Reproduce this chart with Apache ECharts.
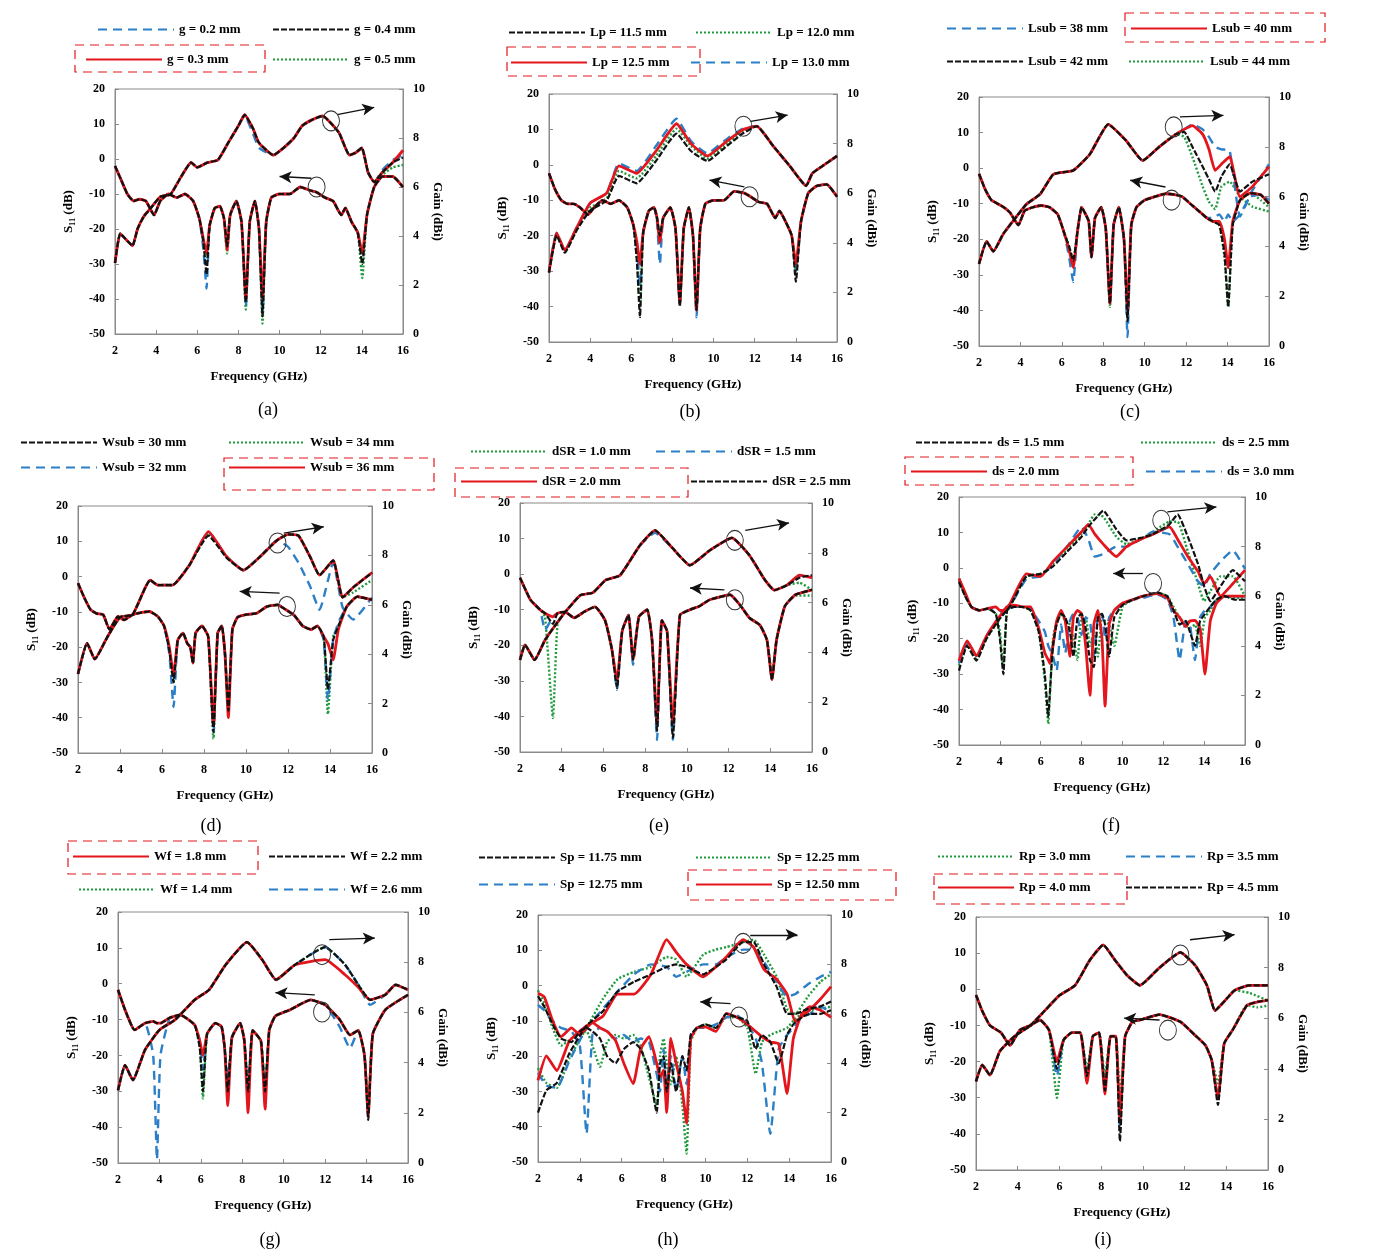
<!DOCTYPE html>
<html><head><meta charset="utf-8">
<script src="https://cdn.jsdelivr.net/npm/echarts@6/dist/echarts.min.js"></script>
<style>html,body{margin:0;padding:0;background:#fff}#c{width:1379px;height:1254px}</style>
</head><body><div id="c"></div>
<script>
// ---------- axis ticks ----------
const freqTicks = [2,4,6,8,10,12,14,16];
const s11Ticks = [20,10,0,-10,-20,-30,-40,-50];
const gainTicks = [10,8,6,4,2,0];

// ---------- (a) ----------
const fA = [2,2.3,2.6,2.9,3.2,3.5,3.9,4.2,4.6,5.0,5.4,5.8,6.1,6.3,6.45,6.6,6.85,7.1,7.3,7.45,7.6,7.9,8.15,8.36,8.55,8.8,9.0,9.17,9.35,9.6,10.0,10.5,11.0,11.5,11.8,12.2,12.6,13.0,13.2,13.5,13.8,14.02,14.25,14.6,15.0,15.5,16];
const s11A_red   = [-2,-6,-10,-12,-11.5,-12,-16,-12,-10,-11,-10,-12,-17,-23,-27,-19,-14,-13.5,-17,-26,-16,-12,-18,-40,-18,-12,-20,-40,-18,-11,-10,-10,-8,-9,-9.5,-11,-12,-16,-14,-18,-21,-27,-16,-8,-5,-5,-8];
const s11A_blue  = [-2,-6,-10,-12,-11.5,-12,-16,-12,-10,-11,-10,-12,-17,-26,-37,-19,-14,-13.5,-17,-25,-16,-12,-18,-42,-18,-12,-20,-44,-18,-11,-10,-10,-8,-9,-9.5,-11,-12,-16,-14,-18,-21,-28,-16,-8,-5,-5,-8];
const s11A_black = [-2,-6,-10,-12,-11.5,-12,-16,-12,-10,-11,-10,-12,-17,-24,-33,-19,-14,-13.5,-17,-25,-16,-12,-18,-41,-18,-12,-20,-45,-18,-11,-10,-10,-8,-9,-9.5,-11,-12,-16,-14,-18,-21,-30,-16,-8,-5,-5,-8];
const s11A_green = [-2,-6,-10,-12,-11.5,-12,-16,-12,-10,-11,-10,-12,-17,-23,-28,-19,-14,-13.5,-17,-27,-16,-12,-18,-43,-18,-12,-20,-47,-18,-11,-10,-10,-8,-9,-9.5,-11,-12,-16,-14,-18,-21,-34,-16,-8,-5,-5,-8];
const gfA = [2,2.25,2.6,2.85,3.1,3.4,3.7,4.2,4.7,5.2,5.7,6.0,6.5,7.0,7.5,8.0,8.3,8.7,9.0,9.7,10.2,10.7,11.1,11.6,12.1,12.5,12.9,13.4,13.7,14.0,14.3,14.6,15.0,15.5,16];
const gainA_red   = [2.9,4.1,3.8,3.6,4.3,4.8,5.1,5.6,5.7,6.4,7.0,6.8,7.0,7.1,7.8,8.5,8.95,8.4,7.8,7.3,7.6,8.0,8.5,8.75,8.9,8.6,8.2,7.3,7.4,7.6,6.6,6.2,6.6,7.0,7.5];
const gainA_blue  = [2.9,4.1,3.8,3.6,4.3,4.8,5.1,5.6,5.7,6.4,7.0,6.8,7.0,7.1,7.8,8.5,8.9,8.2,7.6,7.3,7.6,8.0,8.5,8.75,8.9,8.6,8.2,7.3,7.4,7.6,6.6,6.2,6.7,7.1,7.3];
const gainA_black = [2.9,4.1,3.8,3.6,4.3,4.8,5.1,5.6,5.7,6.4,7.0,6.8,7.0,7.1,7.8,8.5,8.95,8.4,7.8,7.3,7.6,8.0,8.5,8.75,8.9,8.6,8.2,7.3,7.4,7.6,6.6,6.2,6.6,7.0,7.2];
const gainA_green = [2.9,4.1,3.8,3.6,4.3,4.8,5.1,5.6,5.7,6.4,7.0,6.8,7.0,7.1,7.8,8.5,8.95,8.4,7.8,7.3,7.6,8.0,8.5,8.75,8.9,8.6,8.2,7.3,7.4,7.6,6.6,6.2,6.5,6.8,6.9];

// ---------- (b) ----------
const fB = [2,2.3,2.6,2.9,3.2,3.5,3.9,4.2,4.6,5.0,5.4,5.8,6.1,6.28,6.42,6.58,6.85,7.1,7.25,7.39,7.55,7.9,8.15,8.36,8.55,8.8,9.0,9.17,9.35,9.6,10.0,10.5,11.0,11.5,11.8,12.2,12.6,13.0,13.2,13.5,13.8,14.0,14.25,14.6,15.0,15.5,16];
const s11B_red   = [-2.4,-7,-10,-11,-11,-12,-14,-12,-10,-11,-10,-12,-17,-22,-28,-19,-13,-12,-15,-22,-15,-12,-18,-39,-18,-12,-20,-41,-18,-11,-10,-10,-7.5,-8,-9,-10.5,-11,-15,-13,-16,-20,-28,-16,-8,-6,-5.5,-9];
const s11B_blue  = [-2.4,-7,-10,-11,-11,-12,-14,-12,-10,-11,-10,-12,-17,-24,-34,-19,-13,-12,-16,-28,-15,-12,-18,-39,-18,-12,-20,-43,-18,-11,-10,-10,-7.5,-8,-9,-10.5,-11,-15,-13,-16,-20,-30,-16,-8,-6,-5.5,-9];
const s11B_black = [-2.4,-7,-10,-11,-11,-12,-14,-12,-10,-11,-10,-12,-17,-28,-43,-19,-13,-12,-15,-20,-15,-12,-18,-40,-18,-12,-20,-41,-18,-11,-10,-10,-7.5,-8,-9,-10.5,-11,-15,-13,-16,-20,-33,-16,-8,-6,-5.5,-9];
const s11B_green = [-2.4,-7,-10,-11,-11,-12,-14,-12,-10,-11,-10,-12,-17,-27,-40,-19,-13,-12,-15,-21,-15,-12,-18,-39,-18,-12,-20,-41,-18,-11,-10,-10,-7.5,-8,-9,-10.5,-11,-15,-13,-16,-20,-30,-16,-8,-6,-5.5,-9];
const gfB = [2,2.37,2.77,3.34,4.0,4.8,5.4,6.26,7.2,8.2,8.9,9.7,10.5,11.4,12.1,12.9,13.7,14.5,14.8,15.3,16];
const gainB_red   = [2.8,4.4,3.7,4.6,5.6,6.0,7.1,6.8,7.7,8.8,8.0,7.5,8.0,8.55,8.7,7.9,7.1,6.3,6.8,7.1,7.5];
const gainB_blue  = [2.9,4.4,3.7,4.6,5.6,6.0,7.2,6.9,7.9,9.0,8.1,7.6,8.1,8.6,8.7,7.9,7.1,6.3,6.8,7.1,7.5];
const gainB_black = [2.8,4.3,3.6,4.5,5.3,5.7,6.7,6.4,7.3,8.4,7.7,7.3,7.8,8.4,8.7,7.9,7.1,6.3,6.8,7.1,7.5];
const gainB_green = [2.8,4.3,3.7,4.5,5.4,5.8,6.9,6.6,7.5,8.6,7.9,7.4,7.9,8.5,8.7,7.9,7.1,6.3,6.8,7.1,7.5];

// ---------- (c) ----------
const fC = [2,2.3,2.6,2.9,3.2,3.5,3.9,4.2,4.6,5.0,5.4,5.8,6.1,6.35,6.55,6.75,6.95,7.15,7.3,7.43,7.6,7.9,8.12,8.32,8.5,8.75,9.0,9.17,9.35,9.6,10.0,10.5,11.0,11.5,11.8,12.2,12.6,13.0,13.3,13.6,13.85,14.03,14.25,14.6,15.1,15.6,16];
const s11C_red   = [-1.6,-6,-9,-10,-11,-12.5,-16,-12,-11,-10.5,-11,-13,-18,-23,-28,-18,-11,-13,-15,-25,-14,-11,-17,-38,-16,-11,-20,-40,-16,-11,-9,-8,-7.2,-7.5,-8,-10,-12,-14,-15,-15,-20,-28,-15,-9,-7,-7.5,-10];
const s11C_blue  = [-1.6,-6,-9,-10,-11,-12.5,-16,-12,-11,-10.5,-11,-13,-18,-25,-32,-18,-11,-13,-15,-25,-14,-11,-17,-38,-16,-11,-20,-47.5,-16,-11,-9,-8,-7.2,-7.5,-8,-10,-12,-14,-14,-13,-15,-13,-15,-13,-8,-7.5,-9];
const s11C_black = [-1.6,-6,-9,-10,-11,-12.5,-16,-12,-11,-10.5,-11,-13,-18,-22,-26,-18,-11,-13,-15,-25,-14,-11,-17,-38,-16,-11,-20,-43,-16,-11,-9,-8,-7.2,-7.5,-8,-10,-12,-14,-15,-16,-24,-39,-16,-9,-7,-7.5,-10];
const s11C_green = [-1.6,-6,-9,-10,-11,-12.5,-16,-12,-11,-10.5,-11,-13,-18,-22,-26,-18,-11,-13,-15,-25,-14,-11,-17,-39,-16,-11,-20,-42,-16,-11,-9,-8,-7.2,-7.5,-8,-10,-12,-14,-15,-16,-25,-39,-16,-9,-7,-9,-11];
const gfC = [2,2.37,2.69,3.17,3.81,4.3,4.95,5.6,6.55,7.35,8.24,9.1,9.9,10.7,11.5,11.9,12.3,12.8,13.1,13.4,13.7,14.1,14.6,15.2,16];
const gainC_red   = [3.3,4.2,3.8,4.5,5.2,5.7,6.1,6.9,7.05,7.7,8.9,8.25,7.45,8.0,8.5,8.7,8.85,8.5,7.9,7.05,7.3,7.6,6.0,6.4,7.2];
const gainC_blue  = [3.3,4.2,3.8,4.5,5.2,5.7,6.1,6.9,7.05,7.7,8.9,8.25,7.45,8.0,8.5,8.7,8.9,8.7,8.4,8.0,7.9,7.85,5.2,6.25,7.3];
const gainC_black = [3.3,4.2,3.8,4.5,5.2,5.7,6.1,6.9,7.05,7.7,8.9,8.25,7.45,8.0,8.5,8.6,8.0,7.2,6.7,6.2,6.8,7.3,6.2,6.6,6.9];
const gainC_green = [3.3,4.2,3.8,4.5,5.2,5.7,6.1,6.9,7.05,7.7,8.9,8.25,7.45,8.0,8.5,8.4,7.6,6.4,5.8,5.5,6.4,6.6,6.0,5.6,5.4];

// ---------- (d) ----------
const fD = [2,2.3,2.6,2.9,3.2,3.5,3.9,4.2,4.6,5.0,5.4,5.8,6.1,6.35,6.55,6.75,7.0,7.2,7.35,7.47,7.6,7.9,8.2,8.45,8.65,8.85,9.0,9.16,9.35,9.6,10.0,10.5,11.0,11.5,11.9,12.3,12.7,13.1,13.4,13.7,13.9,14.15,14.4,14.8,15.3,16];
const s11D_red   = [-1.9,-6,-9.4,-10.5,-10.8,-15,-11.3,-12.3,-10.8,-10.2,-9.9,-11.3,-14,-20,-28,-18,-16,-18.9,-20,-24.5,-16,-14,-17,-42,-16,-14,-22,-40,-15,-11.5,-10.8,-10.4,-8.5,-8,-9.4,-11,-14,-15,-14,-17,-19,-23.6,-15,-8.5,-5.7,-6.6];
const s11D_blue  = [-1.9,-6,-9.4,-10.5,-10.8,-15,-11.3,-12.3,-10.8,-10.2,-9.9,-11.3,-14,-22,-37,-18,-16,-18.9,-20,-24.5,-16,-14,-17,-44,-16,-14,-22,-36,-15,-11.5,-10.8,-10.4,-8.5,-8,-9.4,-11,-14,-15,-14,-18,-35,-18,-13,-8.5,-5.7,-6.6];
const s11D_black = [-1.9,-6,-9.4,-10.5,-10.8,-15,-11.3,-12.3,-10.8,-10.2,-9.9,-11.3,-14,-21,-30,-18,-16,-18.9,-20,-24.5,-16,-14,-17,-44,-16,-14,-22,-38,-15,-11.5,-10.8,-10.4,-8.5,-8,-9.4,-11,-14,-15,-14,-17,-32,-18,-14,-8.5,-5.7,-6.6];
const s11D_green = [-1.9,-6,-9.4,-10.5,-10.8,-15,-11.3,-12.3,-10.8,-10.2,-9.9,-11.3,-14,-21,-30,-18,-16,-18.9,-20,-24.5,-16,-14,-17,-46,-16,-14,-22,-38,-15,-11.5,-10.8,-10.4,-8.5,-8,-9.4,-11,-14,-15,-14,-17,-39,-17,-14,-8.5,-5.7,-6.6];
const gfD = [2,2.43,2.8,3.4,4.0,4.6,5.44,5.8,6.5,7.3,8.21,9.08,9.88,10.67,11.46,12.0,12.5,13.05,13.5,14.15,14.6,15.1,16];
const gainD_red   = [3.2,4.45,3.8,4.7,5.5,5.6,7.0,6.8,6.8,7.6,8.96,7.95,7.4,7.95,8.6,8.85,8.8,7.95,7.2,7.8,6.3,6.7,7.3];
const gainD_blue  = [3.2,4.45,3.8,4.7,5.5,5.6,7.0,6.8,6.8,7.6,8.96,7.95,7.4,7.95,8.6,8.35,7.7,6.75,5.8,7.7,5.9,5.4,6.3];
const gainD_black = [3.2,4.45,3.8,4.7,5.5,5.6,7.0,6.8,6.8,7.6,8.8,7.9,7.4,7.95,8.6,8.85,8.8,7.95,7.2,7.8,6.3,6.7,7.3];
const gainD_green = [3.2,4.45,3.8,4.7,5.5,5.6,7.0,6.8,6.8,7.6,8.9,7.95,7.4,7.95,8.6,8.85,8.8,7.95,7.2,7.8,6.3,6.5,7.0];

// ---------- (e) ----------
const fE = [2,2.5,2.96,3.2,3.58,3.8,4.15,4.6,5.1,5.6,6.07,6.4,6.65,6.9,7.2,7.42,7.7,8.1,8.33,8.57,8.8,9.05,9.33,9.67,10.15,10.6,11.1,12.07,12.55,13.0,13.5,13.84,14.08,14.3,14.7,15.2,16];
const s11E_red   = [-1,-7.2,-10,-11,-12,-11,-10.6,-12.3,-10.5,-9.2,-12.9,-21,-30,-16,-11.5,-24,-12,-10,-18.5,-42,-13,-16,-42,-11.5,-10,-9,-7.2,-5.8,-8.7,-12.3,-14.3,-18.5,-29.7,-18.5,-9,-5.8,-4.4];
const s11E_blue  = [-1,-7.2,-10,-15.7,-12,-11,-10.6,-12.3,-10.5,-9.2,-12.9,-21,-32.5,-16,-11.5,-25.5,-12,-10,-18.5,-46.6,-13,-16,-46.6,-11.5,-10,-9,-7.2,-5.8,-8.7,-12.3,-14.3,-18.5,-29.7,-18.5,-9,-5.8,-4.4];
const s11E_black = [-1,-7.2,-10,-11,-14,-11,-10.6,-12.3,-10.5,-9.2,-12.9,-21,-32,-16,-11.5,-24,-12,-10,-18.5,-44,-13,-16,-46,-11.5,-10,-9,-7.2,-5.8,-8.7,-12.3,-14.3,-18.5,-29.7,-18.5,-9,-5.8,-4.4];
const s11E_green = [-1,-7.2,-10,-12,-40.4,-14,-10.6,-12.3,-10.5,-9.2,-12.9,-21,-30,-16,-11.5,-24,-12,-10,-18.5,-40,-13,-16,-44,-11.5,-10,-9,-7.2,-5.8,-8.7,-12.3,-14.3,-18.5,-28,-18.5,-9,-6,-6];
const gfE = [2,2.24,2.7,3.2,3.7,4.15,4.9,5.5,6.1,6.8,7.75,8.47,9.3,10.15,11.1,12.16,13.0,13.75,14.2,14.8,15.4,16];
const gainE_red   = [3.7,4.3,3.7,4.5,5.1,5.6,6.3,6.4,6.9,7.1,8.3,8.9,8.2,7.5,8.1,8.6,7.9,6.9,6.5,6.7,7.1,7.0];
const gainE_blue  = [3.7,4.3,3.7,4.5,5.1,5.6,6.3,6.4,6.9,7.1,8.3,8.8,8.2,7.5,8.1,8.6,7.9,6.9,6.5,6.7,7.1,7.0];
const gainE_black = [3.7,4.3,3.7,4.5,5.1,5.6,6.3,6.4,6.9,7.1,8.3,8.9,8.2,7.5,8.1,8.6,7.9,6.9,6.5,6.7,7.0,7.1];
const gainE_green = [3.7,4.3,3.7,4.5,5.1,5.6,6.3,6.4,6.9,7.1,8.3,8.9,8.2,7.5,8.1,8.6,7.9,6.9,6.5,6.7,6.8,6.5];

// ---------- (f) ----------
const fF = [2,2.3,2.6,3.0,3.4,3.8,4.0,4.17,4.35,4.7,5.1,5.5,5.9,6.2,6.37,6.45,6.6,6.78,7.0,7.2,7.43,7.6,7.8,8.0,8.2,8.41,8.6,8.8,9.0,9.15,9.35,9.6,10.0,10.5,11.0,11.7,12.2,12.5,12.8,13.1,13.3,13.55,13.8,14.04,14.3,14.6,15.0,15.5,16];
const s11F_red   = [-3,-7,-11,-12,-11.5,-11,-12,-12,-11,-10.5,-11,-11,-17,-24,-26,-27,-22,-15,-12,-15,-25,-14,-12,-13,-22,-36,-16,-12,-20,-39,-16,-12,-10,-9,-8,-7.3,-8.5,-12,-14,-16.6,-15,-14.8,-17,-30,-15,-10,-8,-8,-8];
const s11F_black = [-4,-8,-11,-12,-11.5,-13,-20,-30,-12,-11,-11,-12,-18,-30,-42,-35,-22,-16,-13,-14,-18,-25,-14,-13,-17,-26,-28,-14,-13,-16,-25,-14,-10.5,-9,-8,-7,-8,-12,-16,-15,-18,-22,-15,-13,-11,-9,-8,-9,-9];
const s11F_green = [-3.5,-8,-11,-12,-11.5,-13,-18,-28,-12,-11,-11,-12,-18,-32,-44,-36,-20,-15,-13,-15,-16,-20,-26,-14,-14,-22,-18,-25,-14,-15,-16,-22,-11,-9,-8,-7.2,-8,-11,-14,-16,-17,-16,-22,-14,-12,-9,-8,-8.5,-8.5];
const s11F_blue  = [-3,-7.5,-11,-12,-11.5,-11.5,-12,-13,-11.5,-11,-11,-11.5,-15,-18,-22,-23,-25,-29,-16,-24,-15,-13,-14,-19,-14,-15,-25,-14,-13,-20,-14,-12,-10.5,-9,-8.5,-7.5,-9,-14,-26,-15,-16,-26,-14,-12,-11,-9,-8,-8,-8];
const gfF = [2,2.4,2.85,3.35,4.0,4.5,5.3,6.0,6.6,7.3,8.0,8.33,8.65,9.06,9.7,10.2,10.9,11.5,12.3,12.7,13.2,13.7,14.0,14.3,14.8,15.4,16];
const gainF_red   = [3.4,4.2,3.6,4.4,5.2,5.7,6.9,6.8,7.4,8.0,8.6,8.9,8.5,8.1,7.6,8.0,8.3,8.5,8.8,8.3,7.6,7.0,6.5,6.8,6.0,6.5,7.05];
const gainF_black = [3.0,4.0,3.4,4.3,5.1,5.6,6.8,6.9,7.2,7.8,8.4,8.8,9.1,9.45,8.7,8.25,8.35,8.5,8.9,9.3,8.4,7.3,6.4,5.8,6.4,7.05,6.6];
const gainF_green = [3.2,4.1,3.5,4.3,5.1,5.6,6.8,6.9,7.3,7.9,8.5,8.9,9.3,9.2,8.4,8.1,8.3,8.6,9.0,9.0,7.8,6.5,5.8,6.2,6.8,6.8,6.0];
const gainF_blue  = [3.3,4.1,3.6,4.4,5.2,5.6,6.7,6.8,7.3,8.0,8.8,8.3,7.6,7.7,8.0,8.0,8.3,8.6,8.5,8.0,7.3,6.6,6.4,6.9,7.4,7.85,7.1];

// ---------- (g) ----------
const fG = [2,2.34,2.8,3.3,3.7,3.88,4.05,4.5,5.0,5.7,5.95,6.1,6.3,6.7,7.0,7.15,7.3,7.5,7.9,8.1,8.28,8.5,8.9,9.1,9.3,9.6,10.3,11.3,12.0,12.7,13.2,13.6,13.9,14.08,14.3,14.9,15.6,16];
const s11G_red   = [-1.7,-7.3,-12.9,-11,-10.5,-11,-11,-9.5,-8.7,-11.5,-16,-20,-14,-11,-12,-18,-34,-15,-11,-16,-36,-13,-16,-35,-13,-9,-7.3,-4.5,-5.9,-10,-14.3,-13,-20,-37,-14,-7.3,-4.5,-3.1];
const s11G_black = [-1.7,-7.3,-12.9,-11,-10.5,-11,-11,-9.5,-8.7,-11.5,-18,-30,-14,-11,-12,-18,-30,-15,-11,-16,-30,-13,-16,-30,-13,-9,-7.3,-4.5,-5.9,-10,-14.3,-13,-20,-38,-14,-7.3,-4.5,-3.1];
const s11G_green = [-1.7,-7.3,-12.9,-11,-10.5,-11,-11,-9.5,-8.7,-11.5,-18,-32,-14,-11,-12,-18,-28,-15,-11,-16,-28,-13,-16,-29,-13,-9,-7.3,-4.5,-5.9,-10,-14.3,-13,-20,-34,-14,-7.3,-4.5,-3.1];
const s11G_blue  = [-1.7,-7.3,-12.9,-11,-20,-49,-20,-9.5,-8.7,-11.5,-16,-24,-14,-11,-12,-18,-26,-15,-11,-16,-30,-13,-16,-31,-13,-9,-7.3,-4.5,-5.9,-12,-18,-13,-20,-36,-14,-7.3,-4.5,-3.1];
const gfG = [2,2.34,2.72,3.3,4.0,4.75,5.7,6.4,7.2,8.23,8.96,9.63,10.55,12.0,12.96,13.6,14.17,14.9,15.4,16];
const gainG_red   = [2.9,3.9,3.3,4.5,5.3,5.7,6.5,6.9,7.9,8.8,8.1,7.3,7.9,8.1,7.5,7.0,6.5,6.7,7.1,6.9];
const gainG_black = [2.9,3.9,3.3,4.5,5.3,5.7,6.5,6.9,7.9,8.8,8.1,7.3,7.9,8.6,7.9,7.1,6.5,6.7,7.1,6.9];
const gainG_green = [2.9,3.9,3.3,4.5,5.3,5.7,6.5,6.9,7.9,8.8,8.1,7.3,7.9,8.6,7.9,7.1,6.5,6.7,7.1,6.9];
const gainG_blue  = [2.9,3.9,3.3,4.5,5.3,5.7,6.5,6.9,7.9,8.8,8.1,7.3,7.9,8.6,7.9,7.1,6.3,6.7,7.1,6.9];

// ---------- (h) ----------
const fH = [2,2.3,2.7,3.1,3.6,4.0,4.32,4.6,4.96,5.3,5.7,6.1,6.55,6.9,7.3,7.67,7.83,8.0,8.15,8.35,8.6,8.9,9.1,9.3,9.6,10.0,10.5,11.0,11.5,12.0,12.4,12.7,13.1,13.5,13.9,14.2,14.6,15.0,15.5,16];
const s11H_red   = [-2.2,-3.2,-10,-14.5,-12,-14,-12,-10.5,-12,-13,-15.5,-22,-27.8,-18,-14.5,-22,-26,-24,-36,-15,-22,-30,-39,-15,-12,-11.7,-13,-7.9,-9,-11,-13,-14.5,-16,-16.5,-30.6,-15,-8,-6,-7,-9];
const s11H_blue  = [-5.5,-7,-10,-12,-13,-17,-42,-14,-12,-13,-15,-14,-16,-15,-16,-25,-30,-18,-28,-20,-30,-20,-28,-14,-12,-12,-11,-9,-8.5,-11,-15,-22,-42,-18,-14,-12,-9,-8,-6,-7.5];
const s11H_green = [-1.3,-5,-12,-17,-15,-13,-13,-17,-23,-16,-14,-15,-14,-17,-26,-34,-20,-15,-22,-28,-20,-34,-47.6,-16,-12,-11,-12,-9,-9,-12,-25,-16,-14,-13,-12,-10,-8,-7,-6.5,-6];
const s11H_black = [-3,-6,-11,-15,-16,-13,-12,-13,-15,-20,-22,-18,-16,-18,-24,-36,-22,-20,-30,-22,-30,-20,-24,-14,-12,-11,-12,-8,-9,-10,-18,-14,-16,-22,-14,-11,-9,-8,-8,-7];
const gfH = [2,2.4,2.9,3.5,4.3,5.1,5.8,6.6,7.4,8.15,8.6,9.1,9.9,10.5,11.0,11.8,12.3,12.8,13.4,13.9,14.3,14.9,15.5,16];
const gainH_red   = [3.3,4.3,3.7,4.9,5.5,5.9,6.8,6.8,7.6,9.0,8.5,8.0,7.5,7.9,8.3,9.0,8.7,7.8,7.4,6.8,5.7,6.1,6.6,7.1];
const gainH_green = [3.8,3.2,3.0,4.2,5.4,6.6,7.4,7.7,7.9,8.3,8.2,7.5,8.4,8.6,8.7,8.9,9.0,8.4,7.5,6.2,6.0,6.7,7.3,7.6];
const gainH_blue  = [3.6,3.1,3.0,4.1,5.4,6.2,6.9,7.6,8.0,7.9,7.5,7.7,8.0,8.0,8.3,8.6,8.6,8.1,7.3,6.7,6.8,7.2,7.5,7.7];
const gainH_black = [2.0,2.9,3.2,4.4,5.5,6.1,6.9,7.3,7.6,7.9,8.0,7.9,7.6,7.9,8.2,8.9,8.9,8.0,7.1,6.0,6.0,6.2,6.3,6.5];

// ---------- (i) ----------
const fI = [2,2.3,2.67,3.2,3.63,4.1,4.6,5.07,5.5,5.88,6.2,6.6,7.0,7.32,7.6,7.9,8.18,8.45,8.7,8.9,9.15,9.5,9.86,10.8,11.8,12.5,13.0,13.3,13.6,13.9,14.3,15.0,15.5,16];
const s11I_red   = [-1.6,-6,-10,-12,-15.5,-11.3,-10,-8.5,-11.3,-20,-14,-12,-12,-26,-13,-12,-29,-13,-13,-36,-13,-9,-8.5,-7,-9,-12.7,-15.5,-19.6,-30,-15,-11.3,-4.4,-3.5,-3];
const s11I_black = [-1.6,-6,-10,-12,-15.5,-11.3,-10,-8.5,-11.3,-22,-14,-12,-12,-24,-13,-12,-28,-13,-13,-42,-13,-9,-8.5,-7,-9,-12.7,-15.5,-19.6,-32,-15,-11.3,-4.4,-3.5,-3];
const s11I_green = [-1.6,-6,-10,-12,-15.5,-11.3,-10,-8.5,-11.3,-30,-14,-12,-12,-22,-13,-12,-24,-13,-13,-30,-13,-9,-8.5,-7,-9,-12.7,-15.5,-19.6,-26,-15,-11.3,-4.4,-5,-4.5];
const s11I_blue  = [-1.6,-6,-10,-12,-15.5,-11.3,-10,-8.5,-11.3,-24,-14,-12,-12,-25,-13,-12,-27,-13,-13,-38,-13,-9,-8.5,-7,-9,-12.7,-15.5,-19.6,-30,-15,-11.3,-4.4,-3.5,-3];
const gfI = [2,2.3,2.67,3.15,3.87,4.6,5.3,6.0,6.75,7.46,8.1,8.66,9.24,9.86,10.8,11.8,12.5,13.07,13.46,13.94,14.4,15.1,16];
const gainI_red   = [3.5,4.15,3.75,4.7,5.3,5.7,6.3,6.9,7.3,8.3,8.9,8.3,7.7,7.3,8.0,8.6,8.1,7.3,6.3,6.7,7.1,7.3,7.3];
const gainI_black = [3.5,4.15,3.75,4.7,5.3,5.7,6.3,6.9,7.3,8.3,8.9,8.3,7.7,7.3,8.0,8.6,8.1,7.3,6.3,6.7,7.1,7.3,7.3];
const gainI_blue  = [3.5,4.15,3.75,4.7,5.3,5.7,6.3,6.9,7.3,8.3,8.9,8.3,7.7,7.3,8.0,8.6,8.1,7.3,6.3,6.7,7.1,7.3,7.3];
const gainI_green = [3.5,4.15,3.75,4.7,5.3,5.7,6.3,6.9,7.3,8.3,8.9,8.3,7.7,7.3,8.0,8.6,8.1,7.3,6.3,6.7,7.1,7.0,6.7];

// ---------- legend labels ----------
const namesA = {blue:'g = 0.2 mm', black:'g = 0.4 mm', red:'g = 0.3 mm', green:'g = 0.5 mm'};
const namesB = {black:'Lp = 11.5 mm', green:'Lp = 12.0 mm', red:'Lp = 12.5 mm', blue:'Lp = 13.0 mm'};
const namesC = {blue:'Lsub = 38 mm', red:'Lsub = 40 mm', black:'Lsub = 42 mm', green:'Lsub = 44 mm'};
const namesD = {black:'Wsub = 30 mm', green:'Wsub = 34 mm', blue:'Wsub = 32 mm', red:'Wsub = 36 mm'};
const namesE = {green:'dSR = 1.0 mm', blue:'dSR = 1.5 mm', red:'dSR = 2.0 mm', black:'dSR = 2.5 mm'};
const namesF = {black:'ds = 1.5 mm', green:'ds = 2.5 mm', red:'ds = 2.0 mm', blue:'ds = 3.0 mm'};
const namesG = {red:'Wf = 1.8 mm', black:'Wf = 2.2 mm', green:'Wf = 1.4 mm', blue:'Wf = 2.6 mm'};
const namesH = {black:'Sp = 11.75 mm', green:'Sp = 12.25 mm', blue:'Sp = 12.75 mm', red:'Sp = 12.50 mm'};
const namesI = {green:'Rp = 3.0 mm', blue:'Rp = 3.5 mm', red:'Rp = 4.0 mm', black:'Rp = 4.5 mm'};

// ---------- layout (positions, not data) ----------
const panels = [
 {tag:'(a)', grid:[115,89,288,245], f:fA, gf:gfA, s11:{blue:s11A_blue,black:s11A_black,red:s11A_red,green:s11A_green}, gain:{blue:gainA_blue,black:gainA_black,red:gainA_red,green:gainA_green}, names:namesA,
  leg:[['blue',97,30],['black',272,30],['red',85,60],['green',272,60]], frame:[75,45,190,27], lab:[268,410],
  ann:{gc:[12.5,8.7], ga:[[12.8,8.95],[14.6,9.25]], sc:[11.8,-8], sa:[[11.55,-5.5],[10.0,-5.0]]}},
 {tag:'(b)', grid:[549,94,288,248], f:fB, gf:gfB, s11:{blue:s11B_blue,black:s11B_black,red:s11B_red,green:s11B_green}, gain:{blue:gainB_blue,black:gainB_black,red:gainB_red,green:gainB_green}, names:namesB,
  leg:[['black',508,33],['green',695,33],['red',510,63],['blue',690,63]], frame:[507,47,193,29], lab:[690,412],
  ann:{gc:[11.45,8.7], ga:[[11.8,8.9],[13.6,9.15]], sc:[11.75,-9], sa:[[11.5,-6.2],[9.8,-4.3]]}},
 {tag:'(c)', grid:[979,97,290,249], f:fC, gf:gfC, s11:{blue:s11C_blue,black:s11C_black,red:s11C_red,green:s11C_green}, gain:{blue:gainC_blue,black:gainC_black,red:gainC_red,green:gainC_green}, names:namesC,
  leg:[['blue',946,29],['red',1130,29],['black',946,62],['green',1128,62]], frame:[1125,13,200,29], lab:[1130,412],
  ann:{gc:[11.4,8.8], ga:[[11.7,9.2],[13.8,9.26]], sc:[11.3,-9], sa:[[11.0,-5.3],[9.3,-3.4]]}},
 {tag:'(d)', grid:[78,506,294,247], f:fD, gf:gfD, s11:{blue:s11D_blue,black:s11D_black,red:s11D_red,green:s11D_green}, gain:{blue:gainD_blue,black:gainD_black,red:gainD_red,green:gainD_green}, names:namesD,
  leg:[['black',20,443],['green',228,443],['blue',20,468],['red',228,468]], frame:[224,458,210,32], lab:[211,826],
  ann:{gc:[11.5,8.5], ga:[[11.8,8.9],[13.7,9.16]], sc:[11.95,-8.5], sa:[[11.6,-4.7],[9.7,-4.2]]}},
 {tag:'(e)', grid:[520,503,292,249], f:fE, gf:gfE, s11:{blue:s11E_blue,black:s11E_black,red:s11E_red,green:s11E_green}, gain:{blue:gainE_blue,black:gainE_black,red:gainE_red,green:gainE_green}, names:namesE,
  leg:[['green',470,452],['blue',655,452],['red',460,482],['black',690,482]], frame:[455,468,233,29], lab:[659,826],
  ann:{gc:[12.3,8.5], ga:[[12.8,8.9],[14.9,9.2]], sc:[12.3,-7.2], sa:[[11.8,-4.4],[10.15,-3.9]]}},
 {tag:'(f)', grid:[959,497,286,248], f:fF, gf:gfF, s11:{blue:s11F_blue,black:s11F_black,red:s11F_red,green:s11F_green}, gain:{blue:gainF_blue,black:gainF_black,red:gainF_red,green:gainF_green}, names:namesF,
  leg:[['black',915,443],['green',1140,443],['red',910,472],['blue',1145,472]], frame:[905,457,228,28], lab:[1111,826],
  ann:{gc:[11.9,9.06], ga:[[12.2,9.4],[14.6,9.6]], sc:[11.5,-4.4], sa:[[11.0,-1.6],[9.55,-1.6]]}},
 {tag:'(g)', grid:[118,912,290,251], f:fG, gf:gfG, s11:{blue:s11G_blue,black:s11G_black,red:s11G_red,green:s11G_green}, gain:{blue:gainG_blue,black:gainG_black,red:gainG_red,green:gainG_green}, names:namesG,
  leg:[['red',72,857],['black',268,857],['green',78,890],['blue',268,890]], frame:[68,841,190,33], lab:[270,1240],
  ann:{gc:[11.85,8.3], ga:[[12.2,8.9],[14.4,8.96]], sc:[11.85,-7.9], sa:[[11.5,-3.1],[9.6,-2.5]]}},
 {tag:'(h)', grid:[538,915,293,247], f:fH, gf:gfH, s11:{blue:s11H_blue,black:s11H_black,red:s11H_red,green:s11H_green}, gain:{blue:gainH_blue,black:gainH_black,red:gainH_red,green:gainH_green}, names:namesH,
  leg:[['black',478,858],['green',695,858],['blue',478,885],['red',695,885]], frame:[688,870,208,30], lab:[668,1240],
  ann:{gc:[11.8,8.85], ga:[[12.14,9.2],[14.4,9.2]], sc:[11.6,-8.9], sa:[[11.2,-5.1],[9.75,-4.6]]}},
 {tag:'(i)', grid:[976,917,292,253], f:fI, gf:gfI, s11:{blue:s11I_blue,black:s11I_black,red:s11I_red,green:s11I_green}, gain:{blue:gainI_blue,black:gainI_black,red:gainI_red,green:gainI_green}, names:namesI,
  leg:[['green',937,857],['blue',1125,857],['red',937,888],['black',1125,888]], frame:[934,874,193,30], lab:[1103,1240],
  ann:{gc:[11.8,8.5], ga:[[12.26,9.1],[14.4,9.3]], sc:[11.2,-11.3], sa:[[10.8,-8.5],[9.1,-8]]}}
];

const styles = {
  blue:  {color:'#2b7fc7', width:2.4, type:[9,6]},
  green: {color:'#1f9a3c', width:2.4, type:[2,2]},
  red:   {color:'#e3161d', width:2.8, type:'solid'},
  black: {color:'#111111', width:2.2, type:[6,2]}
};
const drawOrder = ['green','blue','red','black'];
const zip = (xs, ys) => xs.map((x,i)=>[x, ys[i]]);
const tickFont = {fontFamily:'Liberation Serif', fontWeight:'bold', fontSize:12, color:'#000'};
const nameFont = {fontFamily:'Liberation Serif', fontWeight:'bold', fontSize:13, color:'#000'};

const option = {animation:false, backgroundColor:'#fff', grid:[], xAxis:[], yAxis:[], series:[], legend:[], graphic:[]};

panels.forEach((p, i) => {
  const [l,t,w,h] = p.grid;
  option.grid.push({left:l, top:t, width:w, height:h, show:true, borderColor:'#8a8a8a', borderWidth:1, backgroundColor:'transparent'});
  option.xAxis.push({type:'value', gridIndex:i, min:freqTicks[0], max:freqTicks[freqTicks.length-1], interval:2,
    name:'Frequency (GHz)', nameLocation:'middle', nameGap:36, nameTextStyle:nameFont,
    axisLine:{show:true, onZero:false, lineStyle:{color:'#8a8a8a'}}, axisTick:{inside:true, length:4, lineStyle:{color:'#8a8a8a'}},
    axisLabel:Object.assign({margin:11}, tickFont), splitLine:{show:false}});
  option.yAxis.push({type:'value', gridIndex:i, min:s11Ticks[s11Ticks.length-1], max:s11Ticks[0], interval:10, position:'left',
    name:'S\u2081\u2081 (dB)', nameLocation:'middle', nameGap:40, nameRotate:90, nameTextStyle:nameFont,
    axisLine:{show:true, onZero:false, lineStyle:{color:'#8a8a8a'}}, axisTick:{inside:true, length:4, lineStyle:{color:'#8a8a8a'}},
    axisLabel:Object.assign({margin:10}, tickFont), splitLine:{show:false}});
  option.yAxis.push({type:'value', gridIndex:i, min:gainTicks[gainTicks.length-1], max:gainTicks[0], interval:2, position:'right',
    name:'Gain (dBi)', nameLocation:'middle', nameGap:28, nameRotate:-90, nameTextStyle:nameFont,
    axisLine:{show:true, onZero:false, lineStyle:{color:'#8a8a8a'}}, axisTick:{inside:true, length:4, lineStyle:{color:'#8a8a8a'}},
    axisLabel:Object.assign({margin:10}, tickFont), splitLine:{show:false}});
  drawOrder.forEach(c => {
    const st = styles[c];
    const base = {type:'line', name:p.names[c], xAxisIndex:i, symbol:'none', smooth:0.15, silent:true,
      lineStyle:{color:st.color, width:st.width, type:st.type}, itemStyle:{color:st.color}};
    const sS = Object.assign({}, base, {yAxisIndex:2*i, data:zip(p.f, p.s11[c])});
    const sG = Object.assign({}, base, {yAxisIndex:2*i+1, data:zip(p.gf, p.gain[c])});
    if (c === 'red') {
      const a = p.ann;
      sS.markPoint = {silent:true, symbol:'circle', symbolSize:[17,20], label:{show:false},
        itemStyle:{color:'rgba(0,0,0,0)', borderColor:'#333', borderWidth:1}, data:[{coord:a.sc}]};
      sS.markLine = {silent:true, symbol:['none','arrow'], symbolSize:[9,12], label:{show:false},
        lineStyle:{color:'#111', width:1.3, type:'solid'}, data:[[{coord:a.sa[0]},{coord:a.sa[1]}]]};
      sG.markPoint = {silent:true, symbol:'circle', symbolSize:[17,20], label:{show:false},
        itemStyle:{color:'rgba(0,0,0,0)', borderColor:'#333', borderWidth:1}, data:[{coord:a.gc}]};
      sG.markLine = {silent:true, symbol:['none','arrow'], symbolSize:[9,12], label:{show:false},
        lineStyle:{color:'#111', width:1.3, type:'solid'}, data:[[{coord:a.ga[0]},{coord:a.ga[1]}]]};
    }
    option.series.push(sS, sG);
  });
  p.leg.forEach(([c, x, y]) => {
    option.legend.push({data:[p.names[c]], left:x, top:y-7, itemWidth:76, itemHeight:14, itemGap:4, padding:0,
      selectedMode:false, itemStyle:{opacity:0, borderWidth:0},
      textStyle:{fontFamily:'Liberation Serif', fontWeight:'bold', fontSize:13, color:'#000'}});
  });
  const [fx, fy, fw, fh] = p.frame;
  option.graphic.push({type:'rect', shape:{x:fx, y:fy, width:fw, height:fh}, silent:true,
    style:{fill:'none', stroke:'#e3161d', lineWidth:1.2, lineDash:[9,6]}});
  option.graphic.push({type:'text', x:p.lab[0], y:p.lab[1], silent:true,
    style:{text:p.tag, font:'18px "Liberation Serif"', fill:'#000', align:'center', verticalAlign:'middle'}});
});

const chart = echarts.init(document.getElementById('c'), null, {renderer:'canvas'});
chart.setOption(option);
</script></body></html>
